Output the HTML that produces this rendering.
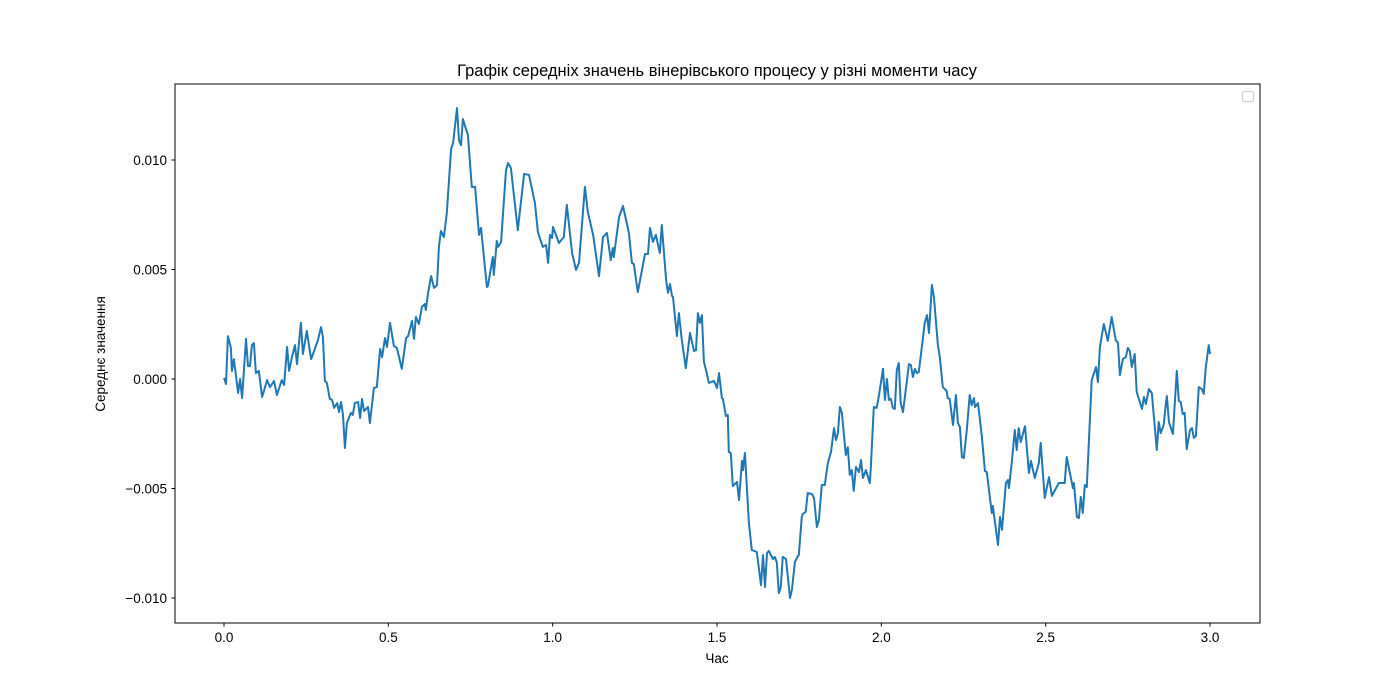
<!DOCTYPE html>
<html><head><meta charset="utf-8"><style>
body{margin:0;background:#fff;}
svg{display:block;font-family:"Liberation Sans","DejaVu Sans",sans-serif;}
</style></head><body>
<svg id="chart" width="1400" height="700">
<rect x="0" y="0" width="1400" height="700" fill="#fff"/>
<text x="717" y="76" text-anchor="middle" font-size="16.5">Графік середніх значень вінерівського процесу у різні моменти часу</text>
<g id="ticks"></g>
<path id="series" fill="none" stroke="#1f77b4" stroke-width="2" stroke-linejoin="round"/>
<rect x="175" y="84" width="1085" height="539" fill="none" stroke="#000" stroke-width="1"/>
<rect x="1242.5" y="91.5" width="11" height="10" rx="2" fill="#fff" stroke="#ccc"/>
<text x="717" y="663" text-anchor="middle" font-size="13.5">Час</text>
<text transform="translate(105,354) rotate(-90)" text-anchor="middle" font-size="13.5">Середнє значення</text>
</svg>
<script>
const times=[0,0.006,0.012,0.021,0.024,0.030,0.043,0.049,0.055,0.067,0.073,0.079,0.085,0.091,0.097,0.106,0.116,0.131,0.140,0.152,0.161,0.176,0.183,0.192,0.198,0.207,0.216,0.222,0.234,0.240,0.252,0.265,0.274,0.286,0.295,0.301,0.307,0.313,0.322,0.329,0.335,0.344,0.350,0.356,0.362,0.368,0.374,0.386,0.392,0.398,0.408,0.414,0.420,0.426,0.438,0.444,0.456,0.465,0.475,0.481,0.490,0.496,0.505,0.517,0.526,0.541,0.554,0.560,0.572,0.578,0.584,0.593,0.602,0.611,0.614,0.621,0.630,0.639,0.648,0.654,0.660,0.669,0.678,0.691,0.697,0.709,0.715,0.721,0.727,0.736,0.742,0.754,0.764,0.776,0.782,0.800,0.803,0.818,0.821,0.830,0.834,0.843,0.858,0.864,0.873,0.894,0.913,0.928,0.946,0.955,0.970,0.980,0.986,0.992,0.998,1.001,1.019,1.034,1.043,1.059,1.071,1.080,1.098,1.107,1.123,1.141,1.153,1.165,1.177,1.183,1.186,1.202,1.214,1.232,1.241,1.247,1.259,1.281,1.290,1.296,1.305,1.314,1.326,1.332,1.345,1.351,1.357,1.363,1.366,1.378,1.384,1.393,1.405,1.418,1.430,1.436,1.442,1.448,1.454,1.460,1.469,1.475,1.491,1.500,1.506,1.515,1.518,1.527,1.533,1.536,1.542,1.548,1.561,1.567,1.576,1.579,1.585,1.597,1.606,1.621,1.634,1.640,1.646,1.652,1.658,1.670,1.676,1.682,1.688,1.694,1.700,1.710,1.722,1.728,1.737,1.746,1.749,1.758,1.761,1.770,1.776,1.789,1.795,1.804,1.810,1.819,1.828,1.837,1.847,1.856,1.862,1.868,1.874,1.880,1.892,1.898,1.904,1.910,1.916,1.923,1.932,1.938,1.944,1.953,1.965,1.968,1.977,1.986,1.993,2.005,2.011,2.017,2.023,2.029,2.035,2.041,2.047,2.053,2.059,2.066,2.078,2.084,2.090,2.096,2.102,2.108,2.114,2.126,2.132,2.139,2.145,2.154,2.160,2.172,2.178,2.187,2.199,2.202,2.208,2.218,2.227,2.233,2.239,2.245,2.251,2.260,2.269,2.275,2.282,2.285,2.294,2.306,2.315,2.321,2.336,2.339,2.355,2.361,2.367,2.379,2.385,2.388,2.397,2.406,2.412,2.418,2.424,2.437,2.449,2.455,2.467,2.479,2.485,2.497,2.510,2.519,2.540,2.558,2.564,2.583,2.586,2.595,2.601,2.607,2.613,2.619,2.625,2.640,2.653,2.659,2.665,2.677,2.689,2.701,2.713,2.720,2.726,2.735,2.744,2.750,2.756,2.762,2.771,2.777,2.793,2.799,2.805,2.814,2.823,2.838,2.844,2.850,2.859,2.866,2.869,2.875,2.887,2.899,2.905,2.911,2.917,2.923,2.929,2.939,2.945,2.951,2.957,2.966,2.975,2.981,2.987,2.996,3.000];
const meansMilli=[0.05,-0.23,1.96,1.42,0.37,0.91,-0.64,0.00,-0.87,1.83,0.59,0.59,1.55,1.64,0.27,0.37,-0.82,-0.05,-0.37,-0.09,-0.73,-0.05,-0.27,1.46,0.37,1.00,1.55,0.68,2.56,1.14,2.19,0.91,1.28,1.78,2.37,1.92,-0.09,-0.18,-0.91,-0.96,-1.32,-1.10,-1.51,-1.05,-1.64,-3.15,-2.01,-1.55,-1.64,-1.10,-1.05,-1.78,-0.91,-1.46,-1.28,-2.01,-0.41,-0.37,1.37,1.00,1.87,1.46,2.56,1.51,1.42,0.46,1.87,1.96,2.65,1.83,2.83,2.51,3.29,3.42,3.15,3.93,4.70,4.16,4.29,6.03,6.76,6.48,7.58,10.50,10.78,12.37,10.91,10.68,11.87,11.42,11.14,8.77,8.77,6.58,6.90,4.20,4.25,5.57,4.75,6.30,6.03,6.26,9.54,9.86,9.63,6.80,9.36,9.32,8.04,6.71,6.03,6.12,5.30,6.58,6.44,6.94,6.21,6.48,7.95,5.75,4.98,5.30,8.77,7.63,6.58,4.70,6.48,6.67,5.43,5.98,5.57,7.40,7.90,6.67,5.30,5.25,3.97,5.71,5.71,6.90,6.26,6.58,5.75,7.03,4.52,3.93,4.34,3.79,3.74,1.96,3.01,1.78,0.50,2.10,1.28,1.32,3.01,2.56,2.92,0.78,0.27,-0.18,-0.09,-0.41,0.27,-0.87,-0.91,-1.69,-1.64,-3.33,-3.38,-4.89,-4.70,-5.53,-3.74,-4.16,-3.38,-6.58,-7.81,-7.90,-9.41,-8.04,-9.50,-7.95,-7.85,-8.22,-8.13,-8.36,-9.77,-9.50,-8.13,-8.22,-10.00,-9.63,-8.36,-8.08,-8.04,-6.30,-6.16,-6.07,-5.21,-5.25,-5.43,-6.76,-6.44,-4.84,-4.84,-3.84,-3.33,-2.24,-2.79,-2.47,-1.28,-1.55,-3.47,-3.11,-4.38,-4.16,-5.11,-4.02,-4.25,-3.70,-4.52,-4.16,-4.75,-4.06,-1.28,-1.32,-0.73,0.46,-0.96,0.00,-0.96,-0.91,-1.32,-1.37,0.41,0.73,-1.10,-1.51,-0.05,0.68,0.64,0.09,0.46,0.27,0.32,1.78,2.56,2.92,2.10,4.29,3.74,1.55,1.00,-0.37,-0.55,-0.87,-0.91,-2.10,-0.73,-2.01,-2.19,-3.56,-3.61,-2.33,-0.73,-1.19,-0.87,-1.28,-1.10,-2.65,-4.20,-4.25,-6.12,-5.80,-7.58,-6.30,-6.89,-4.75,-4.61,-4.98,-3.79,-2.33,-3.24,-2.24,-2.88,-2.15,-4.29,-3.74,-4.52,-3.84,-2.92,-5.43,-4.48,-5.34,-4.75,-4.75,-3.56,-4.98,-4.75,-6.30,-6.35,-5.39,-6.12,-4.84,-4.93,-0.05,0.55,-0.14,1.46,2.51,1.74,2.83,1.78,1.64,0.18,0.91,1.00,1.42,1.28,0.55,1.14,-0.59,-1.37,-0.82,-1.14,-0.46,-0.64,-3.24,-1.96,-2.47,-2.10,-1.05,-0.78,-1.96,-2.51,0.37,-1.00,-1.05,-1.60,-1.55,-3.20,-2.33,-2.24,-2.69,-2.60,-0.37,-0.46,-0.68,0.50,1.55,1.14];
const xTicks=[0,0.5,1.0,1.5,2.0,2.5,3.0];
const xTickLabels=["0.0","0.5","1.0","1.5","2.0","2.5","3.0"];
const yTicks=[-0.010,-0.005,0,0.005,0.010];
const yTickLabels=["\u22120.010","\u22120.005","0.000","0.005","0.010"];

const NS="http://www.w3.org/2000/svg";
function xs(t){return 224+t*(1210-224)/3;}
function ys(v){return 379-v*21900;}
const g=document.getElementById('ticks');
function mk(tag,attrs,txt){const e=document.createElementNS(NS,tag);for(const k in attrs)e.setAttribute(k,attrs[k]);if(txt!==undefined)e.textContent=txt;g.appendChild(e);return e;}
xTicks.forEach((t,i)=>{
  const x=xs(t);
  const l=mk('line',{x1:x,x2:x,y1:623,y2:626.5,stroke:'#000'});
  
  
  const tx=mk('text',{x:x,y:642,'text-anchor':'middle','font-size':'13.5'},xTickLabels[i]);
  
  
});
yTicks.forEach((v,i)=>{
  const y=ys(v);
  const l=mk('line',{x1:171.5,x2:175,y1:y,y2:y,stroke:'#000'});
  
  
  const tx=mk('text',{x:167,y:y+5,'text-anchor':'end','font-size':'13.5'},yTickLabels[i]);
  
  
});
let d='';
times.forEach((t,i)=>{d+=(i?'L':'M')+xs(t).toFixed(1)+','+ys(meansMilli[i]/1000).toFixed(1);});
document.getElementById('series').setAttribute('d',d);
</script>
</body></html>
